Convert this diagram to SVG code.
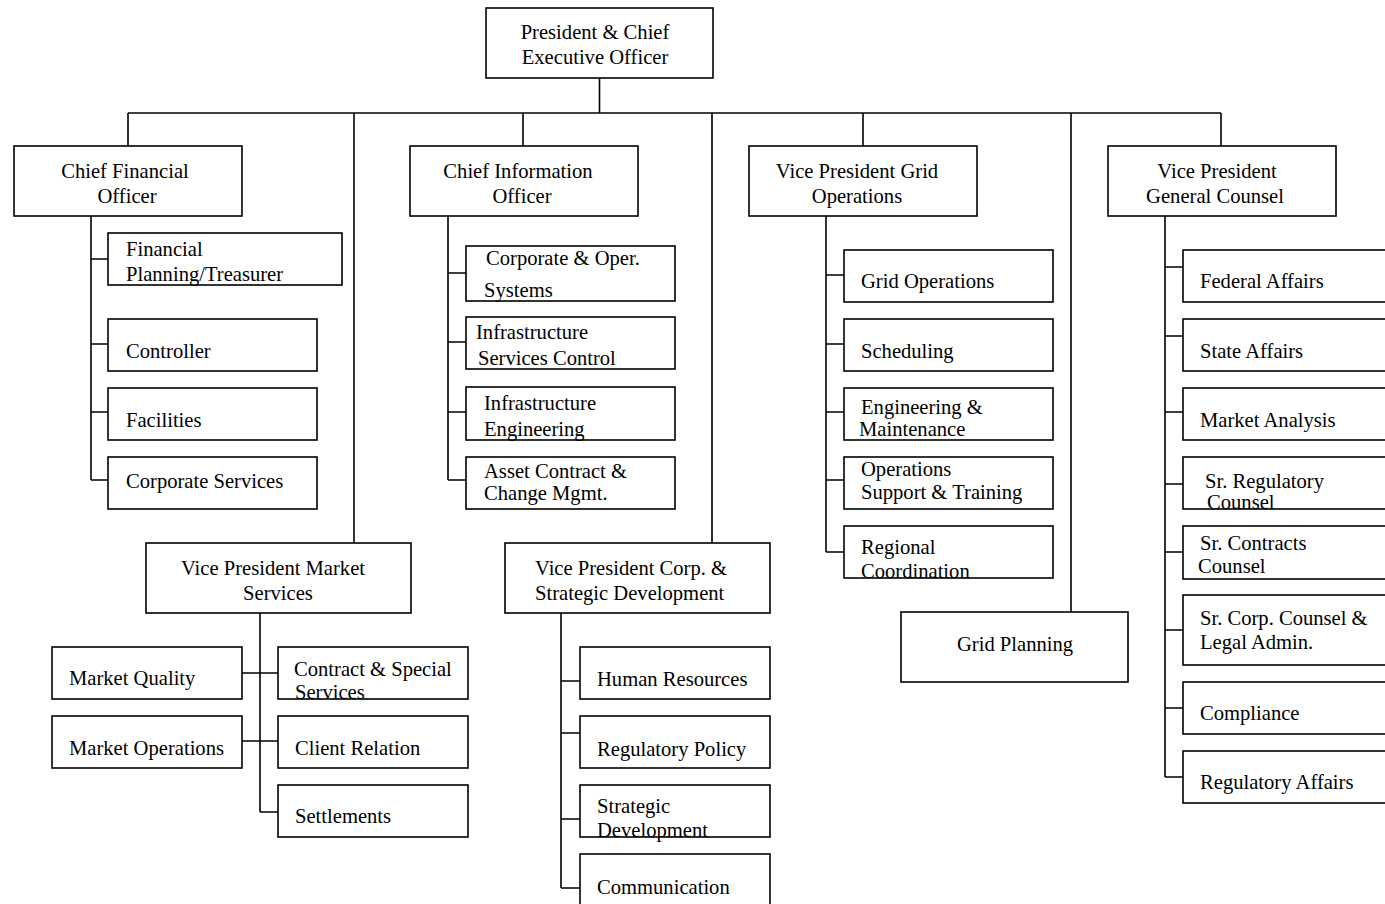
<svg xmlns="http://www.w3.org/2000/svg" width="1385" height="904" viewBox="0 0 1385 904">
  <style>
    .box { fill: #fff; stroke: #000; stroke-width: 1.6; }
    .ln { fill: none; stroke: #000; stroke-width: 1.6; }
    text { font-family: "Liberation Serif", "Times New Roman", serif; font-size: 20.6px; fill: #000; }
    .c { text-anchor: middle; }
  </style>
  <rect width="1385" height="904" fill="#fff"/>

  <!-- reporting lines -->
  <g id="connectors" class="ln">
    <!-- CEO to top bus -->
    <path d="M599.5 78 V113 M128 113 H1221"/>
    <!-- drops from the bus -->
    <path d="M128 113 V146 M354 113 V543 M523 113 V146 M712 113 V543 M863 113 V146 M1071 113 V612 M1221 113 V146"/>
    <!-- CFO branch -->
    <path d="M91 216 V480 M91 259 H108 M91 344 H108 M91 412 H108 M91 480 H108"/>
    <!-- CIO branch -->
    <path d="M448 216 V480 M448 273 H466 M448 342 H466 M448 412 H466 M448 480 H466"/>
    <!-- Grid Operations branch -->
    <path d="M826 216 V552 M826 275 H844 M826 344 H844 M826 412 H844 M826 480 H844 M826 552 H844"/>
    <!-- General Counsel branch -->
    <path d="M1165 216 V777 M1165 267 H1183 M1165 336 H1183 M1165 412 H1183 M1165 484 H1183 M1165 552 H1183 M1165 630 H1183 M1165 708 H1183 M1165 777 H1183"/>
    <!-- Market Services branch -->
    <path d="M260 613 V812 M242 673 H278 M242 741 H278 M260 812 H278"/>
    <!-- Corp. & Strategic Development branch -->
    <path d="M561 613 V888 M561 681 H580 M561 733 H580 M561 819 H580 M561 888 H580"/>
  </g>

  <!-- executive level -->
  <g id="ceo">
    <rect class="box" x="486" y="8" width="227" height="70"/>
    <text class="c" x="595" y="39">President &amp; Chief</text>
    <text class="c" x="595" y="64">Executive Officer</text>
  </g>

  <g id="cfo">
    <rect class="box" x="14" y="146" width="228" height="70"/>
    <text class="c" x="125" y="178">Chief Financial</text>
    <text class="c" x="127" y="203">Officer</text>
  </g>
  <g id="cio">
    <rect class="box" x="410" y="146" width="228" height="70"/>
    <text class="c" x="518" y="178">Chief Information</text>
    <text class="c" x="522" y="203">Officer</text>
  </g>
  <g id="vp-grid-ops">
    <rect class="box" x="749" y="146" width="228" height="70"/>
    <text class="c" x="857" y="178">Vice President Grid</text>
    <text class="c" x="857" y="203">Operations</text>
  </g>
  <g id="vp-general-counsel">
    <rect class="box" x="1108" y="146" width="228" height="70"/>
    <text class="c" x="1217" y="178">Vice President</text>
    <text class="c" x="1215" y="203">General Counsel</text>
  </g>
  <g id="vp-market-services">
    <rect class="box" x="146" y="543" width="265" height="70"/>
    <text class="c" x="273" y="575">Vice President Market</text>
    <text class="c" x="278" y="600">Services</text>
  </g>
  <g id="vp-corp-strategic">
    <rect class="box" x="505" y="543" width="265" height="70"/>
    <text x="535" y="575">Vice President Corp. &amp;</text>
    <text x="535" y="600">Strategic Development</text>
  </g>
  <g id="grid-planning">
    <rect class="box" x="901" y="612" width="227" height="70"/>
    <text class="c" x="1015" y="651">Grid Planning</text>
  </g>

  <!-- CFO departments -->
  <g id="financial-planning">
    <rect class="box" x="108" y="233" width="234" height="52"/>
    <text x="126" y="256">Financial</text>
    <text x="126" y="281">Planning/Treasurer</text>
  </g>
  <g id="controller">
    <rect class="box" x="108" y="319" width="209" height="52"/>
    <text x="126" y="358">Controller</text>
  </g>
  <g id="facilities">
    <rect class="box" x="108" y="388" width="209" height="52"/>
    <text x="126" y="427">Facilities</text>
  </g>
  <g id="corporate-services">
    <rect class="box" x="108" y="457" width="209" height="52"/>
    <text x="126" y="488">Corporate Services</text>
  </g>

  <!-- CIO departments -->
  <g id="corp-oper-systems">
    <rect class="box" x="466" y="246" width="209" height="55"/>
    <text x="486" y="265">Corporate &amp; Oper.</text>
    <text x="484" y="297">Systems</text>
  </g>
  <g id="infra-services-control">
    <rect class="box" x="466" y="317" width="209" height="52"/>
    <text x="476" y="339">Infrastructure</text>
    <text x="478" y="365">Services Control</text>
  </g>
  <g id="infra-engineering">
    <rect class="box" x="466" y="387" width="209" height="53"/>
    <text x="484" y="410">Infrastructure</text>
    <text x="484" y="436">Engineering</text>
  </g>
  <g id="asset-contract">
    <rect class="box" x="466" y="457" width="209" height="52"/>
    <text x="484" y="478">Asset Contract &amp;</text>
    <text x="484" y="500">Change Mgmt.</text>
  </g>

  <!-- Grid Operations departments -->
  <g id="grid-operations">
    <rect class="box" x="844" y="250" width="209" height="52"/>
    <text x="861" y="288">Grid Operations</text>
  </g>
  <g id="scheduling">
    <rect class="box" x="844" y="319" width="209" height="52"/>
    <text x="861" y="358">Scheduling</text>
  </g>
  <g id="engineering-maintenance">
    <rect class="box" x="844" y="388" width="209" height="52"/>
    <text x="861" y="414">Engineering &amp;</text>
    <text x="859" y="436">Maintenance</text>
  </g>
  <g id="ops-support-training">
    <rect class="box" x="844" y="457" width="209" height="52"/>
    <text x="861" y="476">Operations</text>
    <text x="861" y="499">Support &amp; Training</text>
  </g>
  <g id="regional-coordination">
    <rect class="box" x="844" y="526" width="209" height="52"/>
    <text x="861" y="554">Regional</text>
    <text x="861" y="578">Coordination</text>
  </g>

  <!-- General Counsel departments -->
  <g id="federal-affairs">
    <rect class="box" x="1183" y="250" width="230" height="52"/>
    <text x="1200" y="288">Federal Affairs</text>
  </g>
  <g id="state-affairs">
    <rect class="box" x="1183" y="319" width="230" height="52"/>
    <text x="1200" y="358">State Affairs</text>
  </g>
  <g id="market-analysis">
    <rect class="box" x="1183" y="388" width="230" height="52"/>
    <text x="1200" y="427">Market Analysis</text>
  </g>
  <g id="sr-regulatory-counsel">
    <rect class="box" x="1183" y="457" width="230" height="52"/>
    <text x="1205" y="488">Sr. Regulatory</text>
    <text x="1207" y="509">Counsel</text>
  </g>
  <g id="sr-contracts-counsel">
    <rect class="box" x="1183" y="526" width="230" height="53"/>
    <text x="1200" y="550">Sr. Contracts</text>
    <text x="1198" y="573">Counsel</text>
  </g>
  <g id="sr-corp-counsel">
    <rect class="box" x="1183" y="595" width="230" height="70"/>
    <text x="1200" y="625">Sr. Corp. Counsel &amp;</text>
    <text x="1200" y="649">Legal Admin.</text>
  </g>
  <g id="compliance">
    <rect class="box" x="1183" y="682" width="230" height="52"/>
    <text x="1200" y="720">Compliance</text>
  </g>
  <g id="regulatory-affairs">
    <rect class="box" x="1183" y="751" width="230" height="52"/>
    <text x="1200" y="789">Regulatory Affairs</text>
  </g>

  <!-- Market Services departments -->
  <g id="market-quality">
    <rect class="box" x="52" y="647" width="190" height="52"/>
    <text x="69" y="685">Market Quality</text>
  </g>
  <g id="market-operations">
    <rect class="box" x="52" y="716" width="190" height="52"/>
    <text x="69" y="755">Market Operations</text>
  </g>
  <g id="contract-special">
    <rect class="box" x="278" y="647" width="190" height="52"/>
    <text x="294" y="676">Contract &amp; Special</text>
    <text x="295" y="699">Services</text>
  </g>
  <g id="client-relation">
    <rect class="box" x="278" y="716" width="190" height="52"/>
    <text x="295" y="755">Client Relation</text>
  </g>
  <g id="settlements">
    <rect class="box" x="278" y="785" width="190" height="52"/>
    <text x="295" y="823">Settlements</text>
  </g>

  <!-- Corp. & Strategic Development departments -->
  <g id="human-resources">
    <rect class="box" x="580" y="647" width="190" height="52"/>
    <text x="597" y="686">Human Resources</text>
  </g>
  <g id="regulatory-policy">
    <rect class="box" x="580" y="716" width="190" height="52"/>
    <text x="597" y="756">Regulatory Policy</text>
  </g>
  <g id="strategic-development">
    <rect class="box" x="580" y="785" width="190" height="52"/>
    <text x="597" y="813">Strategic</text>
    <text x="597" y="837">Development</text>
  </g>
  <g id="communication">
    <rect class="box" x="580" y="854" width="190" height="70"/>
    <text x="597" y="894">Communication</text>
  </g>
</svg>
